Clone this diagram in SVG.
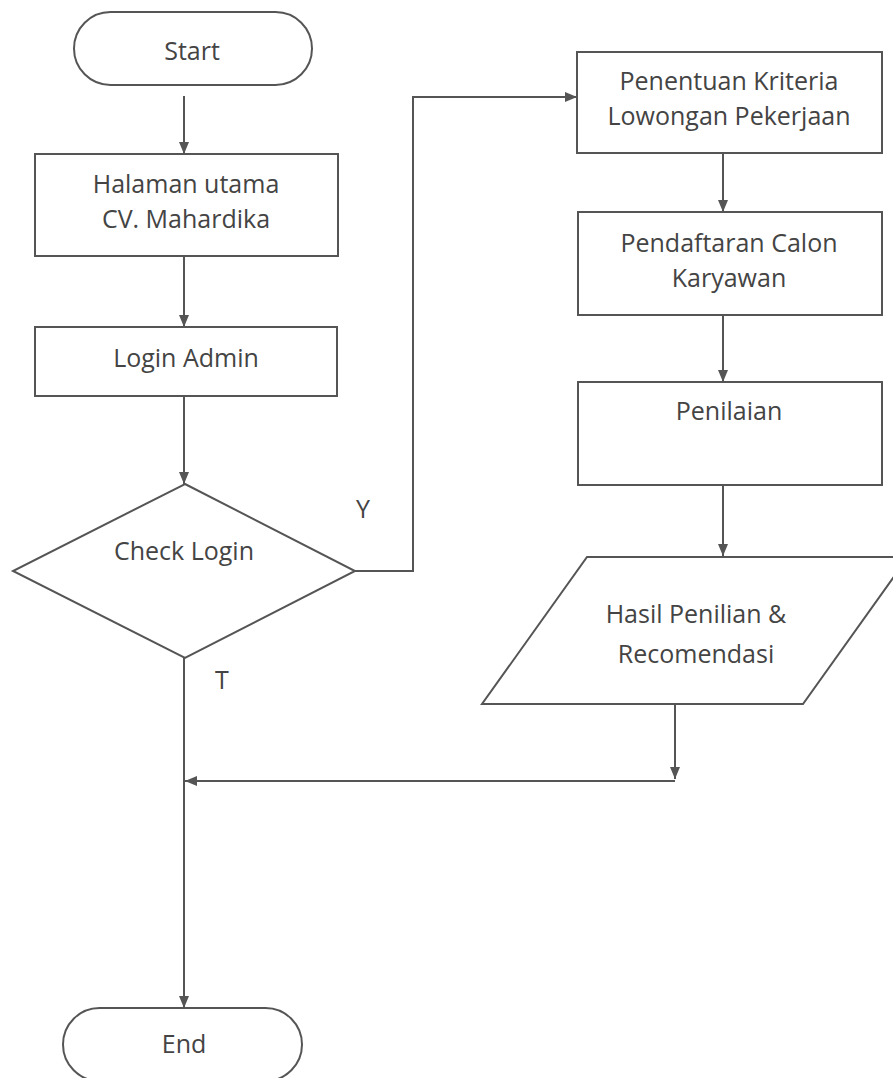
<svg xmlns="http://www.w3.org/2000/svg" width="893" height="1078" viewBox="0 0 893 1078">
<style>
.shape{fill:#fff;stroke:#555;stroke-width:2}
.conn{fill:none;stroke:#555;stroke-width:2}
text{font-family:"Open Sans","Liberation Sans",sans-serif;font-size:25px;fill:#444;text-anchor:middle}
</style>
<defs>
<marker id="arr" viewBox="0 0 12 10" refX="12" refY="5" markerWidth="12" markerHeight="10" markerUnits="userSpaceOnUse" orient="auto">
<path d="M0,0 L12,5 L0,10 Z" fill="#555"/>
</marker>
</defs>
<rect width="893" height="1078" fill="#fff"/>
<g id="connectors">
<line class="conn" x1="184" y1="96" x2="184" y2="154" marker-end="url(#arr)"/>
<line class="conn" x1="184" y1="256" x2="184" y2="327" marker-end="url(#arr)"/>
<line class="conn" x1="184" y1="396" x2="184" y2="484" marker-end="url(#arr)"/>
<polyline class="conn" points="355,571 413,571 413,97 577,97" marker-end="url(#arr)"/>
<line class="conn" x1="723" y1="153" x2="723" y2="212" marker-end="url(#arr)"/>
<line class="conn" x1="723" y1="315" x2="723" y2="382" marker-end="url(#arr)"/>
<line class="conn" x1="723" y1="485" x2="723" y2="556" marker-end="url(#arr)"/>
<line class="conn" x1="675" y1="704" x2="675" y2="779" marker-end="url(#arr)"/>
<line class="conn" x1="675" y1="781" x2="185" y2="781" marker-end="url(#arr)"/>
<line class="conn" x1="184" y1="658" x2="184" y2="1008" marker-end="url(#arr)"/>
<text x="363" y="518">Y</text>
<text x="222" y="689">T</text>
</g>
<g id="start">
<rect class="shape" x="74" y="12" width="238" height="73" rx="36.5"/>
<text x="192" y="60">Start</text>
</g>
<g id="halaman">
<rect class="shape" x="35" y="154" width="303" height="102"/>
<text x="186" y="193">Halaman utama</text>
<text x="186" y="228">CV. Mahardika</text>
</g>
<g id="login">
<rect class="shape" x="35" y="327" width="302" height="69"/>
<text x="186" y="367">Login Admin</text>
</g>
<g id="check">
<polygon class="shape" points="185,484 355,571 185,658 13,571"/>
<text x="184" y="560">Check Login</text>
</g>
<g id="penentuan">
<rect class="shape" x="577" y="52" width="305" height="101"/>
<text x="729" y="90">Penentuan Kriteria</text>
<text x="729" y="125">Lowongan Pekerjaan</text>
</g>
<g id="pendaftaran">
<rect class="shape" x="578" y="212" width="304" height="103"/>
<text x="729" y="252">Pendaftaran Calon</text>
<text x="729" y="287">Karyawan</text>
</g>
<g id="penilaian">
<rect class="shape" x="578" y="382" width="304" height="103"/>
<text x="729" y="420">Penilaian</text>
</g>
<g id="hasil">
<polygon class="shape" points="587,557 908,557 803,704 482,704"/>
<text x="696" y="623">Hasil Penilian &amp;</text>
<text x="696" y="663">Recomendasi</text>
</g>
<g id="end">
<rect class="shape" x="63" y="1008" width="239" height="73" rx="36.5"/>
<text x="184" y="1053">End</text>
</g>
</svg>
